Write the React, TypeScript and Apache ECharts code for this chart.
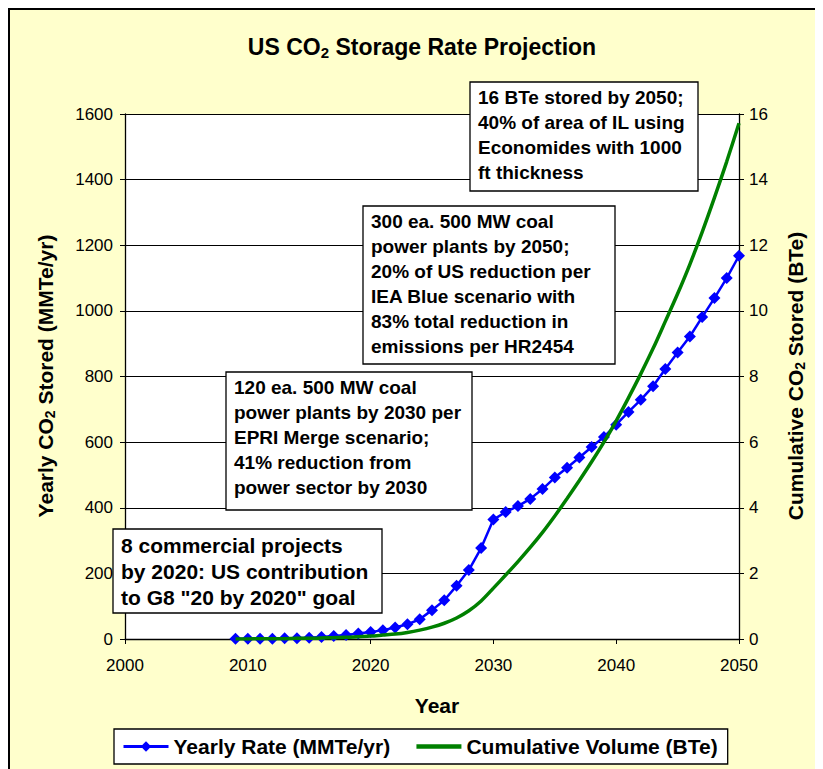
import React, { useEffect, useRef } from "react";
import * as echarts from "echarts";

const years = [
  2009, 2010, 2011, 2012, 2013, 2014, 2015, 2016, 2017, 2018, 2019, 2020, 2021, 2022,
  2023, 2024, 2025, 2026, 2027, 2028, 2029, 2030, 2031, 2032, 2033, 2034, 2035, 2036,
  2037, 2038, 2039, 2040, 2041, 2042, 2043, 2044, 2045, 2046, 2047, 2048, 2049, 2050,
];

const yearlyRate = [
  1, 1, 1, 1, 2, 2, 4, 6, 9, 12, 17, 21, 27, 35,
  45, 60, 88, 118, 162, 210, 277, 364, 387, 405, 427, 457, 492, 522,
  553, 585, 616, 653, 692, 729, 770, 823, 873, 922, 981, 1039, 1100, 1168,
];

const cumulativeVolume = [
  0.0, 0.0, 0.01, 0.01, 0.01, 0.02, 0.02, 0.03, 0.04, 0.05, 0.07, 0.09, 0.12, 0.15,
  0.2, 0.27, 0.36, 0.48, 0.64, 0.86, 1.16, 1.55, 1.95, 2.36, 2.79, 3.25, 3.75, 4.28,
  4.83, 5.4, 6.0, 6.65, 7.35, 8.08, 8.85, 9.68, 10.52, 11.42, 12.4, 13.45, 14.55, 15.72,
];

const seriesNames = ["Yearly Rate (MMTe/yr)", "Cumulative Volume (BTe)"];

const noteTexts = [
  "16 BTe stored by 2050;\n40% of area of IL using\nEconomides with 1000\nft thickness",
  "300 ea. 500 MW coal\npower plants by 2050;\n20% of US reduction per\nIEA Blue scenario with\n83% total reduction in\nemissions per HR2454",
  "120 ea. 500 MW coal\npower plants by 2030 per\nEPRI Merge scenario;\n41% reduction from\npower sector by 2030",
  "8 commercial projects\nby 2020: US contribution\nto G8 \"20 by 2020\" goal",
];

// layout of the note boxes: [x, y, width, height, fontSize, lineHeight] in chart pixels
const noteLayout = [
  [460, 72, 228, 109, 19, 25],
  [353, 196, 252, 158, 19, 25],
  [216, 362, 246, 138, 19, 25],
  [103, 519, 269, 84, 21, 26],
];

const ARIAL = '"Liberation Sans", Arial, sans-serif';

export default function App() {
  const ref = useRef<HTMLDivElement>(null);

  useEffect(() => {
    const chart = echarts.init(ref.current!, null, { renderer: "svg" });

    const graphics: any[] = [];
    noteTexts.forEach((t, i) => {
      const [x, y, w, h, fs, lh] = noteLayout[i];
      graphics.push({
        type: "rect",
        z: 100,
        shape: { x, y, width: w, height: h },
        style: { fill: "#ffffff", stroke: "#000000", lineWidth: 1.3 },
      });
      graphics.push({
        type: "text",
        z: 101,
        x: x + 8,
        y: y + 3,
        style: {
          text: t,
          font: `bold ${fs}px ${ARIAL}`,
          lineHeight: lh,
          fill: "#000000",
          verticalAlign: "top",
          align: "left",
        },
      });
    });

    const richBase = (size: number) => ({
      a: { fontSize: size, fontWeight: "bold", fontFamily: ARIAL, color: "#000" },
      s: {
        fontSize: Math.round(size * 0.65),
        fontWeight: "bold",
        fontFamily: ARIAL,
        color: "#000",
        padding: [Math.round(size * 0.45), 0, 0, 0],
      },
    });

    graphics.push({
      type: "text",
      x: 412,
      y: 37,
      style: {
        text: "{a|US CO}{s|2}{a| Storage Rate Projection}",
        rich: richBase(23),
        align: "center",
        verticalAlign: "middle",
      },
    });
    graphics.push({
      type: "text",
      x: 427,
      y: 695,
      style: {
        text: "Year",
        font: `bold 21px ${ARIAL}`,
        fill: "#000",
        align: "center",
        verticalAlign: "middle",
      },
    });
    graphics.push({
      type: "text",
      x: 35,
      y: 366,
      rotation: Math.PI / 2,
      style: {
        text: "{a|Yearly CO}{s|2}{a| Stored (MMTe/yr)}",
        rich: richBase(21),
        align: "center",
        verticalAlign: "middle",
      },
    });
    graphics.push({
      type: "text",
      x: 785,
      y: 366,
      rotation: Math.PI / 2,
      style: {
        text: "{a|Cumulative CO}{s|2}{a| Stored (BTe)}",
        rich: richBase(21),
        align: "center",
        verticalAlign: "middle",
      },
    });

    const plain = (v: number) => String(v);

    chart.setOption({
      animation: false,
      backgroundColor: "transparent",
      grid: {
        left: 115,
        right: 84,
        top: 104,
        bottom: 130,
        show: true,
        backgroundColor: "#ffffff",
        borderWidth: 0,
      },
      legend: {
        left: 104,
        top: 719,
        data: [
          { name: seriesNames[0], lineStyle: { width: 3 } },
          {
            name: seriesNames[1],
            itemStyle: { opacity: 0, borderWidth: 0 },
            lineStyle: { width: 4.5, color: "#008000" },
          },
        ],
        backgroundColor: "#ffffff",
        borderColor: "#000000",
        borderWidth: 1.3,
        padding: [7, 10, 7, 8],
        itemWidth: 45,
        itemHeight: 13,
        itemGap: 24,
        textStyle: { fontFamily: ARIAL, fontWeight: "bold", fontSize: 21, color: "#000" },
      },
      xAxis: {
        type: "value",
        min: 2000,
        max: 2050,
        interval: 10,
        axisLine: { show: true, lineStyle: { color: "#000", width: 1.3 } },
        axisTick: { show: true, length: 5, lineStyle: { color: "#000" } },
        axisLabel: { color: "#000", fontFamily: ARIAL, fontSize: 17, margin: 18, formatter: plain },
        splitLine: { show: false },
      },
      yAxis: [
        {
          type: "value",
          min: 0,
          max: 1600,
          interval: 200,
          position: "left",
          axisLine: { show: true, lineStyle: { color: "#000", width: 1.3 } },
          axisTick: { show: true, length: 5, lineStyle: { color: "#000" } },
          axisLabel: { color: "#000", fontFamily: ARIAL, fontSize: 17, margin: 12, formatter: plain },
          splitLine: { show: true, lineStyle: { color: "#000", width: 1 } },
        },
        {
          type: "value",
          min: 0,
          max: 16,
          interval: 2,
          position: "right",
          axisLine: { show: true, lineStyle: { color: "#000", width: 1.3 } },
          axisTick: { show: true, length: 5, lineStyle: { color: "#000" } },
          axisLabel: { color: "#000", fontFamily: ARIAL, fontSize: 17, margin: 10, formatter: plain },
          splitLine: { show: false },
        },
      ],
      series: [
        {
          name: seriesNames[0],
          type: "line",
          yAxisIndex: 0,
          data: years.map((y, i) => [y, yearlyRate[i]]),
          symbol: "diamond",
          symbolSize: 12,
          lineStyle: { color: "#0000FF", width: 2.5 },
          itemStyle: { color: "#0000FF" },
          z: 3,
        },
        {
          name: seriesNames[1],
          type: "line",
          yAxisIndex: 1,
          data: years.map((y, i) => [y, cumulativeVolume[i]]),
          symbol: "none",
          smooth: 0.3,
          lineStyle: { color: "#008000", width: 3.5 },
          itemStyle: { color: "#008000" },
          z: 4,
        },
      ],
      graphic: graphics,
    });

    return () => chart.dispose();
  }, []);

  return (
    <div
      style={{
        width: 815,
        height: 761,
        boxSizing: "border-box",
        borderLeft: "2px solid #000",
        borderTop: "2px solid #000",
        background: "#FFFFCC",
        overflow: "hidden",
      }}
    >
      <div ref={ref} style={{ width: 813, height: 759 }} />
    </div>
  );
}
